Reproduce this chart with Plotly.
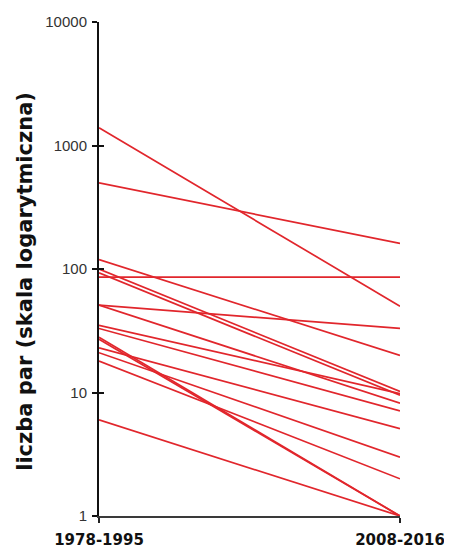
import plotly.graph_objects as go

periods = ["1978-1995", "2008-2016"]
start_values = [1390, 499, 119, 100, 93, 86, 51, 51, 35, 33, 28, 27, 23, 21, 18, 6]
end_values = [50, 161, 20, 10.2, 9.5, 86, 33, 8.2, 9.8, 7.1, 1, 1, 5.1, 3, 2, 1]
y_ticks = [1, 10, 100, 1000, 10000]
y_title = "liczba par (skala logarytmiczna)"

RED = "#e1262c"

fig = go.Figure()
for s, e in zip(start_values, end_values):
    fig.add_trace(go.Scatter(
        x=[0, 1], y=[s, e], mode="lines",
        line=dict(color=RED, width=1.7),
        hoverinfo="skip", showlegend=False,
    ))

# invisible trace to activate overlay axes for crossing ticks
fig.add_trace(go.Scatter(x=[0, 1], y=[1, 1], mode="lines", xaxis="x2", yaxis="y2",
                         line=dict(width=0), showlegend=False, hoverinfo="skip"))

# page body has an 8px margin; figure sized to fill the rest of the window
fig.update_layout(
    width=444, height=542,
    margin=dict(l=91, r=52, t=14, b=34),
    paper_bgcolor="white", plot_bgcolor="white",
    font=dict(family="Liberation Sans, Arial, sans-serif", color="#222"),
    xaxis=dict(
        range=[0, 1], tickvals=[0, 1], ticktext=["<b>" + p + "</b>" for p in periods],
        showgrid=False, zeroline=False, automargin=False,
        showline=True, linecolor="#3a3a3a", linewidth=2,
        ticks="outside", ticklen=5, tickwidth=2, tickcolor="#222",
        tickfont=dict(family="DejaVu Sans, sans-serif", size=15, color="#111"),
        ticklabelstandoff=4,
    ),
    yaxis=dict(
        type="log", range=[0, 4], tickvals=y_ticks,
        ticktext=[str(v) for v in y_ticks],
        showgrid=False, zeroline=False, automargin=False,
        showline=True, linecolor="#111", linewidth=2,
        ticks="outside", ticklen=5, tickwidth=2, tickcolor="#111",
        tickfont=dict(family="Liberation Sans, Arial, sans-serif", size=15, color="#333"),
        ticklabelstandoff=2,
    ),
    xaxis2=dict(
        overlaying="x", range=[0, 1], tickvals=[0, 1], showticklabels=False,
        showgrid=False, zeroline=False, showline=False, automargin=False,
        ticks="inside", ticklen=5, tickwidth=2, tickcolor="#222", anchor="y2",
    ),
    yaxis2=dict(
        overlaying="y", type="log", range=[0, 4], tickvals=y_ticks, showticklabels=False,
        showgrid=False, zeroline=False, showline=False, automargin=False,
        ticks="inside", ticklen=5, tickwidth=2, tickcolor="#111", anchor="x2",
    ),
    annotations=[dict(
        text="<b>" + y_title + "</b>", textangle=-90,
        xref="paper", yref="paper", x=-0.246, y=0.476,
        xanchor="center", yanchor="middle", showarrow=False,
        font=dict(family="DejaVu Sans, sans-serif", size=21, color="#111"),
    )],
)

fig.write_html("out.html")
